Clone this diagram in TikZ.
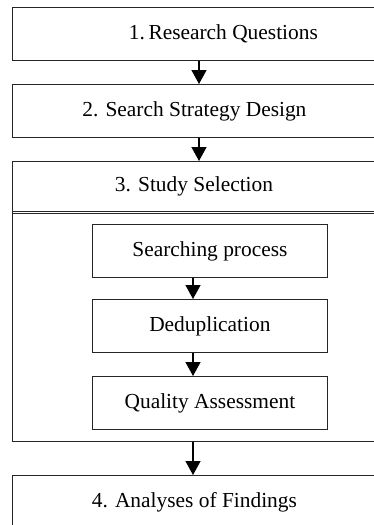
\documentclass[tikz,border=0pt]{standalone}
\usepackage{fontspec}
\setmainfont{Liberation Serif}
\usetikzlibrary{arrows.meta}

\begin{document}
\begin{tikzpicture}[x=1pt, y=1pt,
  every node/.style = {font=\fontsize{21.4}{24}\selectfont},
  stage/.style = {shape=rectangle, draw=black!85, line width=0.8pt,
    anchor=north west, minimum width=364pt, minimum height=53pt, inner sep=0pt},
  substage/.style = {stage, minimum width=235pt},
  flow/.style = {-{Triangle[width=15pt,length=14pt]}, line width=1.3pt}]
  \useasboundingbox (0,0) rectangle (374,-525);
  \clip (0,0) rectangle (374,-525);
  \coordinate (upper) at (199,0);
  \coordinate (lower) at (193,0);
  \coordinate (split) at (0,-211.2);
  \coordinate (split2) at (0,-213.6);
  % main stages
  \node[stage] (questions) at (12,-7) {\hspace*{58pt}1.\,Research Questions};
  \node[stage] (design) at (12,-84) {2. Search Strategy Design};
  \node[stage, minimum height=280pt] (selection) at (12,-161) {};
  \node (selhead) at (194,-186.5) {3. Study Selection};
  \draw[black!85, line width=0.8pt] (selection.west |- split) -- (selection.east |- split);
  \draw[black!85, line width=0.8pt] (selection.west |- split2) -- (selection.east |- split2);
  % inside study selection
  \node[substage] (searching) at (92,-224) {Searching process};
  \node[substage] (dedup) at (92,-299) {Deduplication};
  \node[substage] (quality) at (92,-376) {Quality Assessment};
  \node[stage] (findings) at (12,-475) {4. Analyses of Findings};
  % arrows
  \draw[flow] (questions.south -| upper) -- (design.north -| upper);
  \draw[flow] (design.south -| upper) -- (selection.north -| upper);
  \draw[flow] (searching.south -| lower) -- (dedup.north -| lower);
  \draw[flow] (dedup.south -| lower) -- (quality.north -| lower);
  \draw[flow] (selection.south -| lower) -- (findings.north -| lower);
\end{tikzpicture}
\end{document}
